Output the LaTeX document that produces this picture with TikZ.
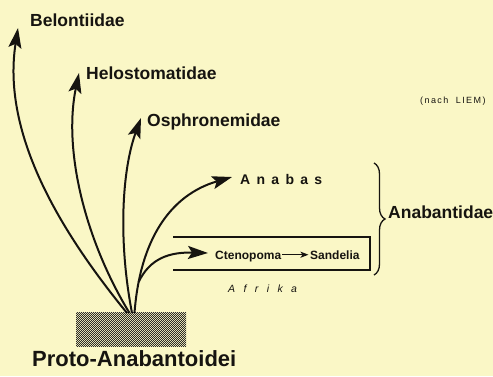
\documentclass[tikz,border=0pt]{standalone}
\usepackage{fontspec}
\setmainfont{Liberation Sans}
\newfontfamily\trackA[LetterSpace=45]{Liberation Sans}
\newfontfamily\trackC[LetterSpace=80]{Liberation Sans}
\newfontfamily\trackD[LetterSpace=15]{Liberation Sans}
\usetikzlibrary{arrows.meta,decorations.pathreplacing,patterns.meta}
\definecolor{paper}{RGB}{250,247,198}
\definecolor{ink}{RGB}{22,20,16}
\definecolor{blockgray}{RGB}{165,163,155}
\tikzdeclarepattern{name=finecheck, type=uncolored,
  bounding box={(0pt,0pt) and (2.4pt,2.4pt)}, tile size={(2.4pt,2.4pt)},
  code={\fill (0pt,0pt) rectangle (1.2pt,1.2pt); \fill (1.2pt,1.2pt) rectangle (2.4pt,2.4pt);}}
\begin{document}
\begin{tikzpicture}[x=1pt,y=-1pt,
  lbl/.style={font=\bfseries\fontsize{17.5}{20}\selectfont, inner sep=0pt, anchor=base west, text=ink},
  smalllbl/.style={font=\bfseries\fontsize{12}{14}\selectfont, inner sep=0pt, anchor=base west, text=ink},
  branch/.style={line width=2pt, draw=ink, -{Stealth[length=20pt,width=13pt,inset=4pt]}},
  frame/.style={line width=2.6pt, draw=ink, line join=miter},
]
\fill[paper] (0,0) rectangle (493,376);
\useasboundingbox (0,0) rectangle (493,376);

% labels
\node[lbl] (belo) at (30,26.5) {Belontiidae};
\node[lbl] (helo) at (86,79) {Helostomatidae};
\node[lbl] (osph) at (147,126) {Osphronemidae};
\node[inner sep=0pt, anchor=base west, text=ink, font=\trackA\bfseries\fontsize{14}{16}\selectfont] (anabas) at (240,184.5) {Anabas};
\node[lbl] (anabantidae) at (388,218) {Anabantidae};
\node[smalllbl] (cteno) at (215,259) {Ctenopoma};
\node[smalllbl] (sand) at (310,259) {Sandelia};
\node[inner sep=0pt, anchor=base west, text=ink, font=\trackC\itshape\fontsize{10.5}{12}\selectfont] (afrika) at (228,292) {Afrika};
\node[inner sep=0pt, anchor=base west, text=ink, font=\trackD\fontsize{9}{11}\selectfont] (nach) at (420,103) {(\,nach\ \ LIEM\,)};
\node[inner sep=0pt, anchor=base west, text=ink, font=\bfseries\fontsize{22}{26}\selectfont] (proto) at (32,366) {Proto-Anabantoidei};

% root block
\node[anchor=north west, minimum width=110pt, minimum height=34pt, inner sep=0pt,
      fill=blockgray, pattern={finecheck}, pattern color=ink!90] (root) at (76,312) {};

% roots and tips
\coordinate (r1) at (127,313);
\coordinate (r2) at (129.5,313);
\coordinate (r3) at (132,313);
\coordinate (r4) at (134.5,313);
\coordinate (t1) at (18,28);
\coordinate (t2) at (79,73);
\coordinate (t3) at (141,118);
\coordinate (t4) at (232,177);
\coordinate (t5) at (208,253);

\draw[branch] (r1) .. controls (55,225) and (2,130) .. (t1);
\draw[branch] (r2) .. controls (85,240) and (63,150) .. (t2);
\draw[branch] (r3) .. controls (118,240) and (122,170) .. (t3);
\draw[branch] (r4) .. controls (140,240) and (170,195) .. coordinate[pos=0.15] (split) (t4);
\draw[branch] (split) .. controls (150,258) and (170,252) .. (t5);

% Africa frame
\coordinate (boxtl) at (173,237);
\coordinate (boxtr) at (370,237);
\coordinate (boxbr) at (370,270);
\coordinate (boxbl) at (173,270);
\draw[frame] (boxtl) -- (boxtr) -- (boxbr) -- (boxbl);

\draw[line width=1.5pt, draw=ink, -{Stealth[length=8pt,width=6pt,inset=2pt]}, shorten <=1pt, shorten >=1.5pt]
  (cteno.east |- sand.west) -- (sand.west);

% brace
\coordinate (bt) at (374,163);
\coordinate (bb) at (374,275);
\draw[ink, line width=1.3pt, decorate, decoration={brace, amplitude=11pt}] (bt) -- (bb);
\end{tikzpicture}
\end{document}
